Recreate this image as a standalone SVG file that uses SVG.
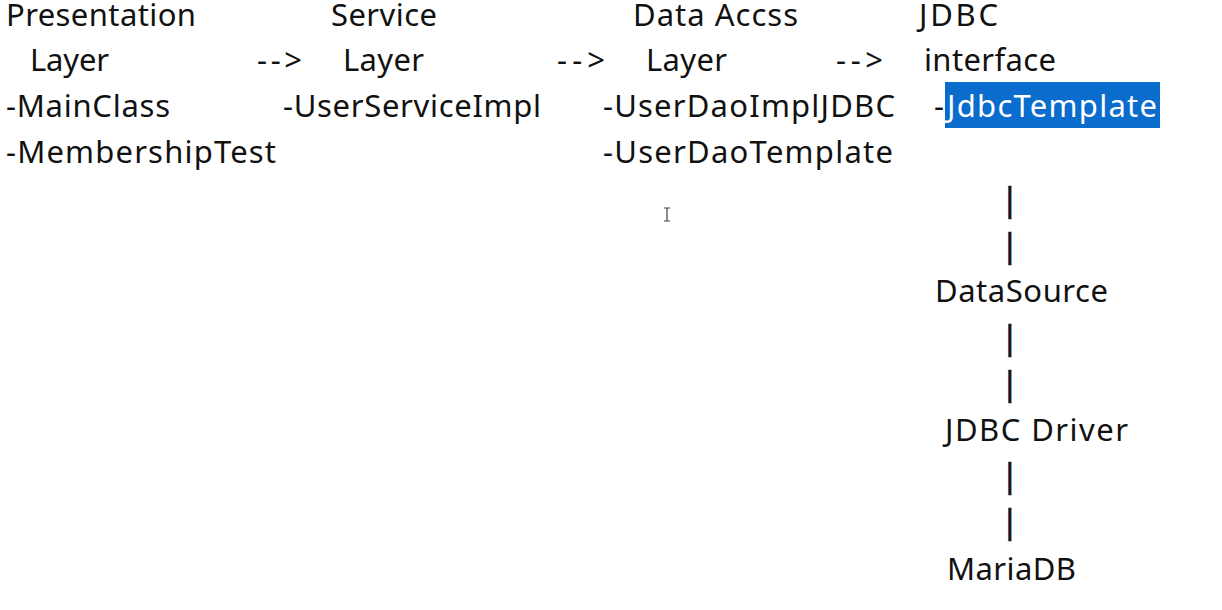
<svg xmlns="http://www.w3.org/2000/svg" width="1222" height="610" viewBox="0 0 1222 610">
<style>
text{font-family:"Noto Sans","Noto Sans CJK KR",sans-serif;font-size:31px;fill:#111}
.sel{fill:#ffffff}
.bar{font-size:32px;stroke:#111;stroke-width:0.7}
</style>
<rect width="1222" height="610" fill="#ffffff"/>
<g id="presentation">
<text x="6" y="26" textLength="190">Presentation</text>
<text x="30" y="71" textLength="79">Layer</text>
<text x="6" y="117" textLength="164">-MainClass</text>
<text x="6" y="163" textLength="270">-MembershipTest</text>
</g>
<g id="service">
<text x="331" y="26" textLength="106">Service</text>
<text x="343" y="71" textLength="81">Layer</text>
<text x="283" y="117" textLength="258">-UserServiceImpl</text>
</g>
<g id="dataaccess">
<text x="633" y="26" textLength="165">Data Accss</text>
<text x="646" y="71" textLength="81">Layer</text>
<text x="603" y="117" textLength="292">-UserDaoImplJDBC</text>
<text x="603" y="163" textLength="290">-UserDaoTemplate</text>
</g>
<g id="jdbc">
<text x="919" y="26" textLength="79">JDBC</text>
<text x="924" y="71" textLength="132">interface</text>
<text x="934" y="117">-</text>
<rect x="945" y="82" width="215" height="46" fill="#0a6ccc"/>
<text class="sel" x="947" y="117" textLength="210">JdbcTemplate</text>
</g>
<g id="datasource"><text x="935" y="302" textLength="173">DataSource</text></g>
<g id="driver"><text x="945" y="441" textLength="183">JDBC Driver</text></g>
<g id="mariadb"><text x="947" y="580" textLength="129">MariaDB</text></g>
<g id="connectors">
<text x="257" y="71" textLength="45">--&gt;</text>
<text x="557" y="71" textLength="48">--&gt;</text>
<text x="836" y="71" textLength="47">--&gt;</text>
<text class="bar" x="1001" y="211">|</text>
<text class="bar" x="1001" y="257">|</text>
<text class="bar" x="1001" y="349">|</text>
<text class="bar" x="1001" y="395">|</text>
<text class="bar" x="1001" y="487">|</text>
<text class="bar" x="1001" y="533">|</text>
</g>
<path d="M664 208h6M667 208v13M664 221h6" stroke="#444" stroke-width="1.2" fill="none"/>
</svg>
